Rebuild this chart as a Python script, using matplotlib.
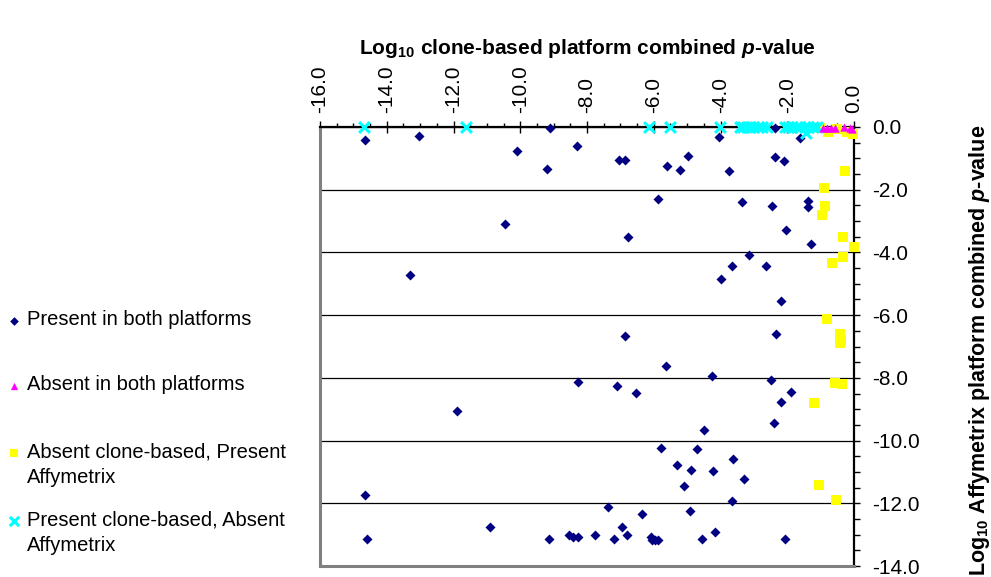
import matplotlib
matplotlib.use("Agg")
import matplotlib.pyplot as plt
from matplotlib.ticker import MultipleLocator, FormatStrFormatter

plt.rcParams["font.family"] = ["Liberation Sans", "DejaVu Sans"]
plt.rcParams["axes.unicode_minus"] = False
plt.rcParams["mathtext.fontset"] = "custom"
plt.rcParams["mathtext.rm"] = "Liberation Sans"
plt.rcParams["mathtext.bf"] = "Liberation Sans:bold"
plt.rcParams["mathtext.it"] = "Liberation Sans:italic"
plt.rcParams["mathtext.bfit"] = "Liberation Sans:bold:italic"

# log10 combined p-values (x: clone-based platform, y: Affymetrix platform)
both_x = [-14.64, -13.03, -10.09, -9.10, -8.31, -9.19, -10.45, -13.30,
          -7.03, -6.86, -4.96, -5.60, -5.21, -4.03, -3.75, -2.37, -2.36, -2.09,
          -1.62, -1.77, -5.86, -3.35, -2.47, -1.37, -1.39, -2.03, -6.76, -1.29,
          -3.14, -3.66, -2.63, -3.99, -2.18, -6.86, -2.35,
          -5.63, -4.25, -7.10, -6.52, -2.50, -1.90, -2.18, -2.40, -4.50, -5.78,
          -4.70, -3.62, -5.29, -4.89, -4.22, -3.29, -5.08, -3.65, -7.36, -6.34,
          -4.90, -6.95, -4.16, -7.76, -6.81, -7.19, -6.09, -6.06, -5.96, -5.87,
          -4.56, -2.08, -8.28, -11.90, -14.64, -14.60, -10.91, -9.15, -8.53,
          -8.42, -8.28]
both_y = [-0.41, -0.28, -0.75, -0.04, -0.60, -1.34, -3.10, -4.73,
          -1.04, -1.06, -0.92, -1.25, -1.38, -0.33, -1.40, -0.03, -0.95, -1.10,
          -0.34, -0.02, -2.29, -2.40, -2.52, -2.36, -2.55, -3.30, -3.52, -3.73,
          -4.07, -4.43, -4.42, -4.85, -5.55, -6.66, -6.61,
          -7.63, -7.93, -8.25, -8.47, -8.06, -8.46, -8.78, -9.44, -9.65, -10.23,
          -10.28, -10.58, -10.77, -10.93, -10.98, -11.23, -11.45, -11.92, -12.13, -12.34,
          -12.25, -12.77, -12.93, -13.01, -13.01, -13.15, -13.09, -13.16, -13.16, -13.16,
          -13.15, -13.15, -8.13, -9.06, -11.74, -13.15, -12.77, -13.15, -13.01,
          -13.08, -13.08]

absent_x = [-0.92, -0.80, -0.68, -0.58, -0.30, -0.12, -0.05]
absent_y = [-0.03, -0.02, -0.04, -0.02, -0.01, -0.02, -0.06]

affy_x = [-1.02, -0.77, -0.52, -0.20, -0.03, -0.28, -0.89, -0.87, -0.96, -0.34,
          -0.01, -0.32, -0.66, -0.80, -0.43, -0.39, -0.43, -0.56, -0.36, -1.19,
          -1.06, -0.53]
affy_y = [-0.02, -0.15, -0.05, -0.16, -0.23, -1.39, -1.95, -2.53, -2.82, -3.51,
          -3.83, -4.15, -4.35, -6.12, -6.59, -6.79, -6.90, -8.15, -8.19, -8.80,
          -11.41, -11.89]

clone_x = [-14.67, -11.63, -6.13, -5.50, -4.02, -3.42, -3.32, -3.22, -3.12, -3.02,
           -2.87, -2.77, -2.62, -2.07, -1.97, -1.87, -1.72, -1.62, -1.47, -1.37,
           -1.22, -1.12, -1.45]
clone_y = [0.0] * 22 + [-0.18]

LABELS = ["Present in both platforms",
          "Absent in both platforms",
          "Absent clone-based, Present\nAffymetrix",
          "Present clone-based, Absent\nAffymetrix"]

STYLES = [dict(marker="D", s=26, c="#000080", linewidths=0),
          dict(marker="^", s=36, c="#FF00FF", linewidths=0),
          dict(marker="s", s=42, c="#FFFF00", linewidths=0),
          dict(marker="x", s=60, c="#00FFFF", linewidths=2.2)]
ZORDERS = [4, 7, 5, 6]

fig = plt.figure(figsize=(9.91, 5.77), dpi=100)
ax = fig.add_axes([320 / 991, 1 - 566 / 577, 534 / 991, 439 / 577])

series = [(both_x, both_y), (absent_x, absent_y), (affy_x, affy_y), (clone_x, clone_y)]
for (xs, ys), st, z in zip(series, STYLES, ZORDERS):
    ax.scatter(xs, ys, clip_on=False, zorder=z, **st)

ax.set_xlim(-16, 0)
ax.set_ylim(-14, 0)
ax.xaxis.tick_top()
ax.yaxis.tick_right()
ax.xaxis.set_major_locator(MultipleLocator(2))
ax.xaxis.set_minor_locator(MultipleLocator(0.5))
ax.yaxis.set_major_locator(MultipleLocator(2))
ax.yaxis.set_minor_locator(MultipleLocator(0.5))
ax.xaxis.set_major_formatter(FormatStrFormatter("%.1f"))
ax.yaxis.set_major_formatter(FormatStrFormatter("%.1f"))
ax.tick_params(axis="x", which="major", direction="inout", length=8, width=1,
               labelsize=15, labelrotation=90, pad=6)
ax.tick_params(axis="x", which="minor", direction="out", length=3, width=1)
ax.tick_params(axis="y", which="both", direction="out", length=4, width=1,
               labelsize=15, pad=9)
ax.grid(axis="y", which="major", color="black", lw=0.9)
ax.set_axisbelow(True)
for side in ("top", "right"):
    ax.spines[side].set_color("black")
    ax.spines[side].set_linewidth(1.6)
for side in ("left", "bottom"):
    ax.spines[side].set_color("#808080")
    ax.spines[side].set_linewidth(2.2)

fig.text(587 / 991, 1 - 48 / 577,
         r"Log$_{\mathbf{10}}$ clone-based platform combined $\mathbfit{p}$-value",
         ha="center", va="center", fontsize=15, fontweight="bold")
fig.text(980 / 991, 1 - 350 / 577,
         r"Log$_{\mathbf{10}}$ Affymetrix platform combined $\mathbfit{p}$-value",
         ha="center", va="center", rotation=90, fontsize=15.5, fontweight="bold")

# legend drawn at the left, markers aligned with the first text line
leg = fig.add_axes([0, 0, 1, 1])
leg.set_xlim(0, 991)
leg.set_ylim(577, 0)
leg.axis("off")
LEG_Y = [321, 386, 453, 521]
for lab, st, yy in zip(LABELS, STYLES, LEG_Y):
    st2 = dict(st)
    st2["s"] = st["s"] * 0.75
    leg.scatter([14], [yy], **st2)
    leg.text(27, yy - 11, lab, ha="left", va="top", fontsize=14.5,
             linespacing=1.45)

fig.savefig("out.png", dpi=100)
